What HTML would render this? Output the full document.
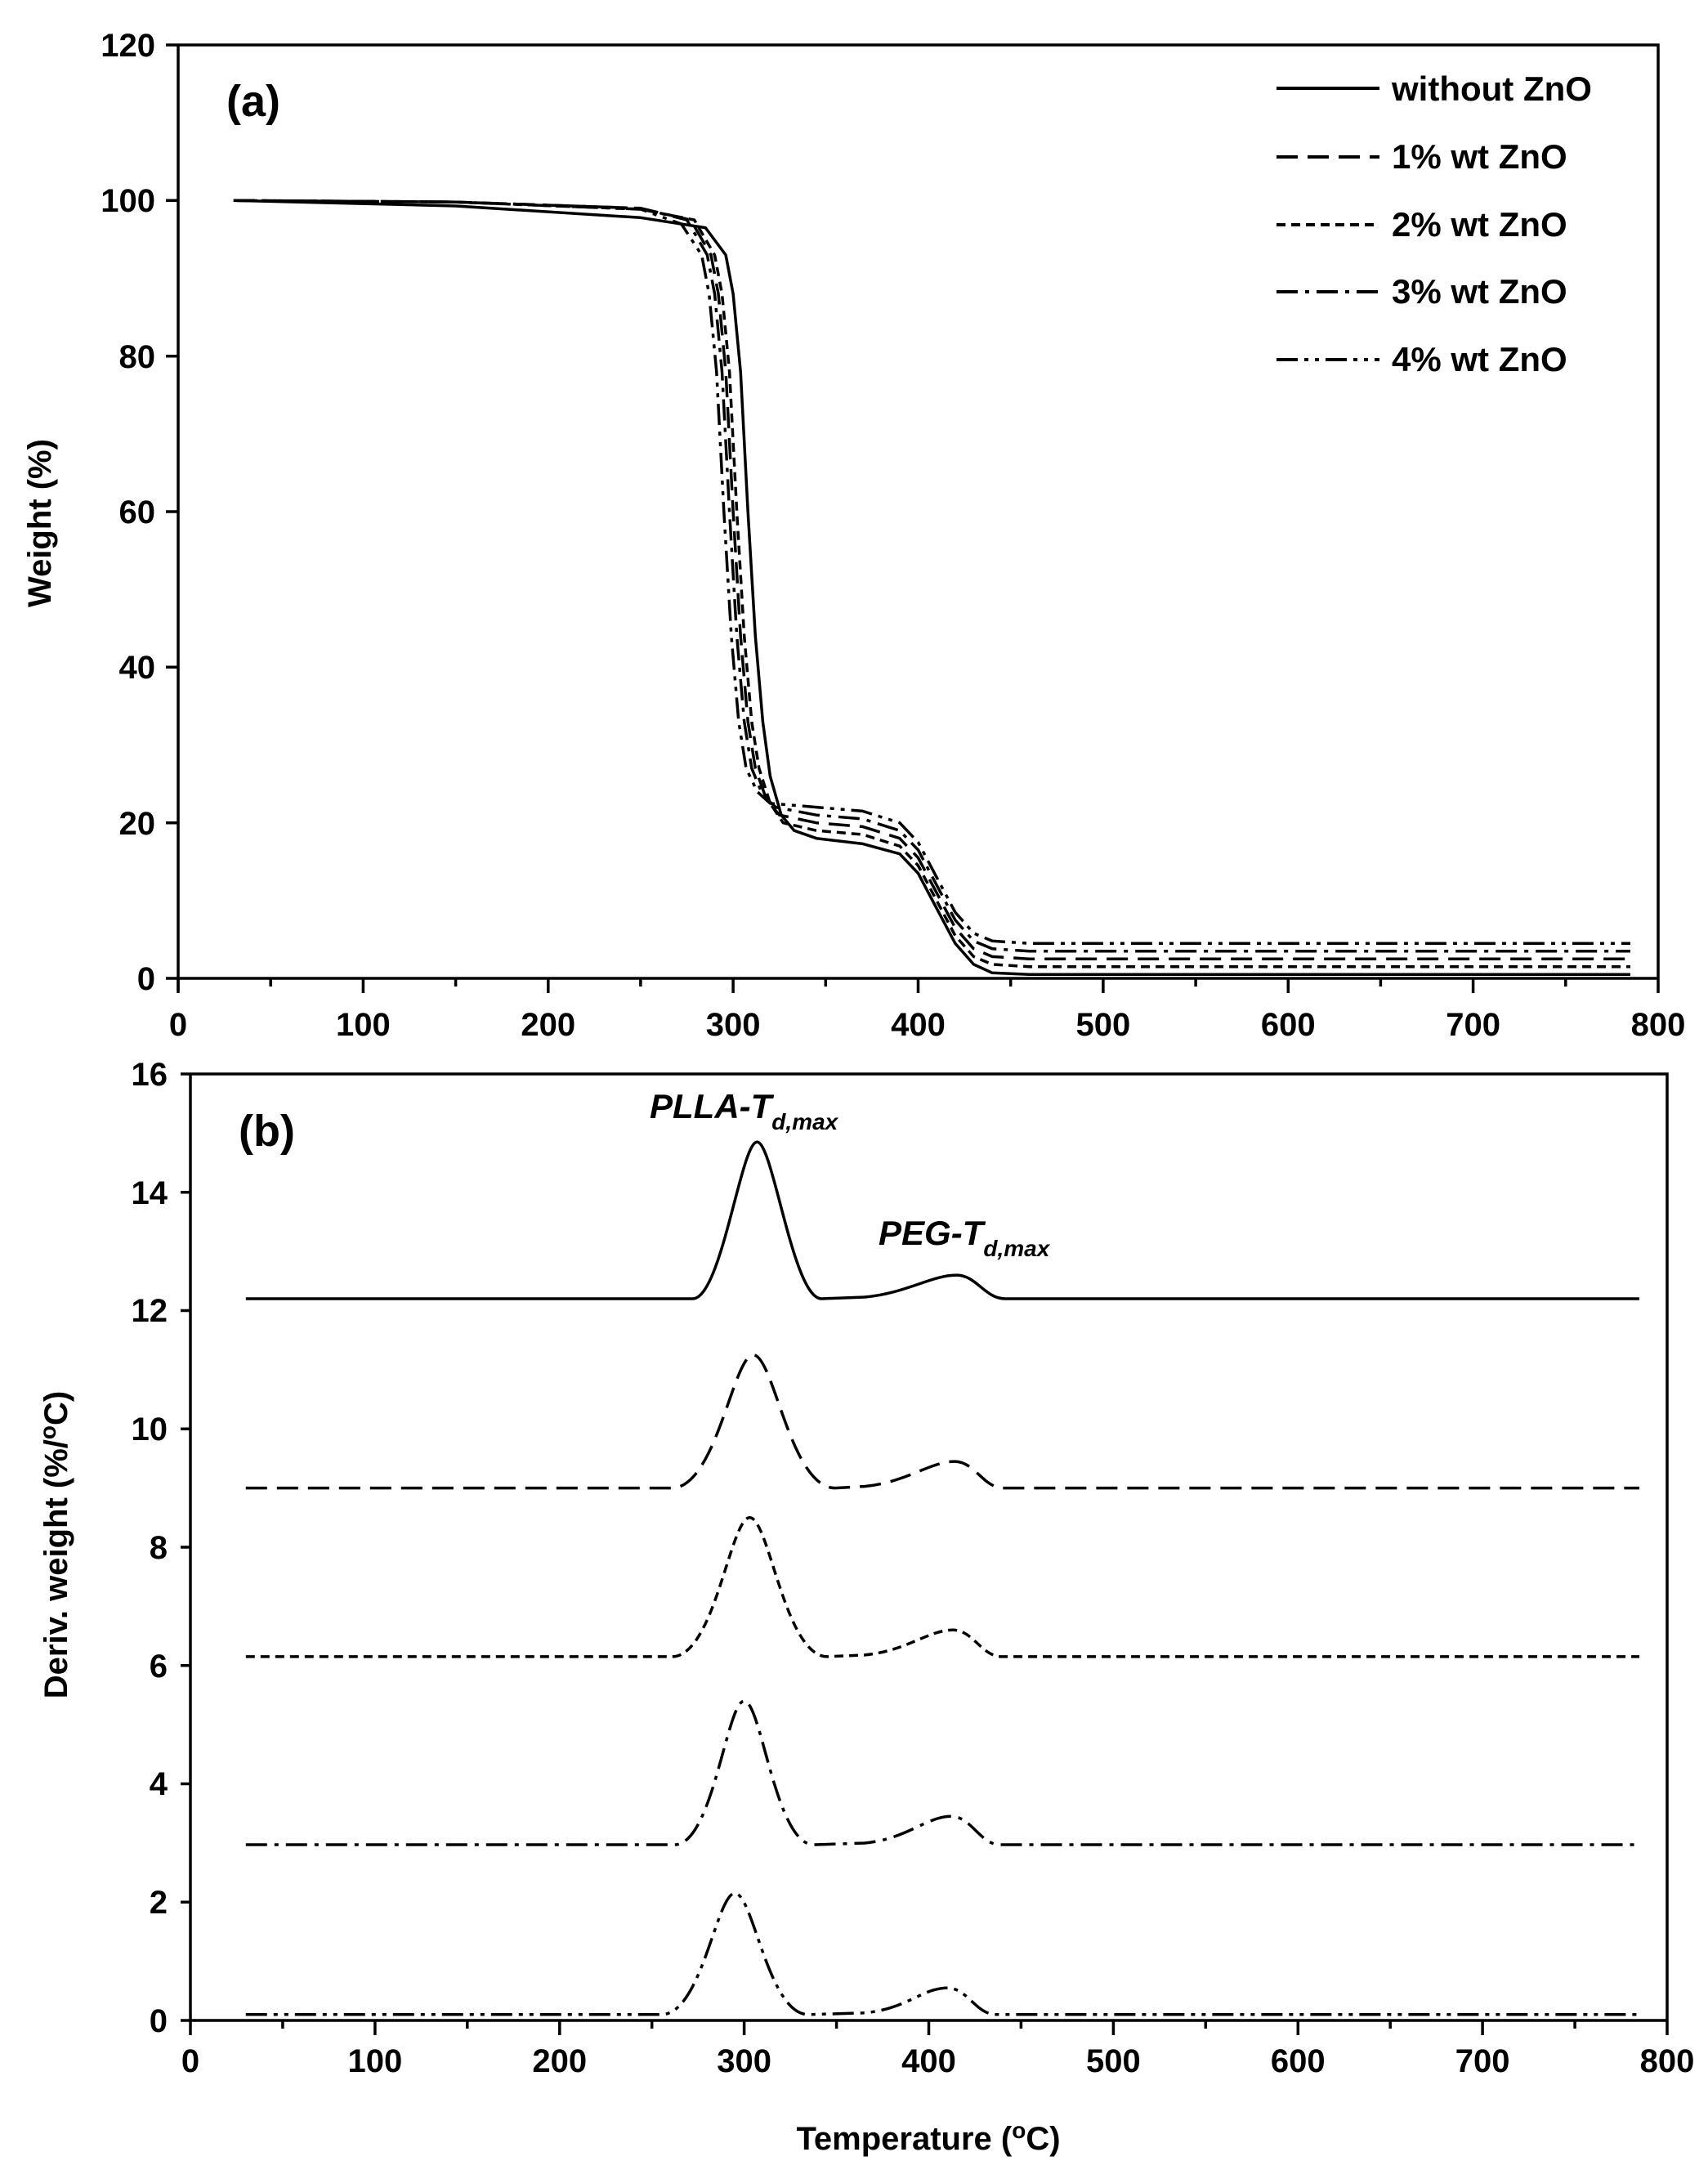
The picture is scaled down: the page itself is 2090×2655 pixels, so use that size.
<!DOCTYPE html>
<html><head><meta charset="utf-8"><style>
html,body{margin:0;padding:0;background:#fff}
svg text{font-family:"Liberation Sans",Arial,sans-serif;font-weight:bold;fill:#000}
</style></head><body>
<svg width="2090" height="2650" viewBox="0 0 2090 2650" xmlns="http://www.w3.org/2000/svg">
<g stroke="#000" stroke-width="3.5" fill="none">
<!-- panel a frame -->
<path d="M218,55 H2029 V1197 M218,55 V1212 M203,1197 H2029"/>
<path d="M203,1006.7 H218 M203,816.3 H218 M203,626 H218 M203,435.7 H218 M203,245.3 H218 M203,55 H218"/>
<path d="M218,1197 v18 M331.2,1197 v10 M444.4,1197 v18 M557.6,1197 v10 M670.8,1197 v18 M783.9,1197 v10 M897.1,1197 v18 M1010.3,1197 v10 M1123.5,1197 v18 M1236.7,1197 v10 M1349.9,1197 v18 M1463.1,1197 v10 M1576.3,1197 v18 M1689.4,1197 v10 M1802.6,1197 v18 M1915.8,1197 v10 M2029,1197 v18"/>
<!-- panel b frame -->
<path d="M233,1314 H2040 V2472 M233,1314 V2472 M221,2472 H2040"/>
<path d="M221,2327.3 H233 M221,2182.5 H233 M221,2037.8 H233 M221,1893 H233 M221,1748.3 H233 M221,1603.5 H233 M221,1458.8 H233 M221,1314 H233"/>
<path d="M233,2472 v18 M345.9,2472 v10 M458.9,2472 v18 M571.8,2472 v10 M684.8,2472 v18 M797.7,2472 v10 M910.6,2472 v18 M1023.6,2472 v10 M1136.5,2472 v18 M1249.4,2472 v10 M1362.4,2472 v18 M1475.3,2472 v10 M1588.3,2472 v18 M1701.2,2472 v10 M1814.1,2472 v18 M1927.1,2472 v10 M2040,2472 v18"/>
</g>
<g font-size="40" text-anchor="end">
<text x="190" y="1211">0</text><text x="190" y="1021">20</text><text x="190" y="830">40</text><text x="190" y="640">60</text><text x="190" y="450">80</text><text x="190" y="259">100</text><text x="190" y="69">120</text>
<text x="205" y="2486">0</text><text x="205" y="2341">2</text><text x="205" y="2196">4</text><text x="205" y="2052">6</text><text x="205" y="1907">8</text><text x="205" y="1762">10</text><text x="205" y="1617">12</text><text x="205" y="1473">14</text><text x="205" y="1328">16</text>
</g>
<g font-size="40" text-anchor="middle">
<text x="218" y="1267">0</text><text x="444.4" y="1267">100</text><text x="670.8" y="1267">200</text><text x="897.1" y="1267">300</text><text x="1123.5" y="1267">400</text><text x="1349.9" y="1267">500</text><text x="1576.3" y="1267">600</text><text x="1802.6" y="1267">700</text><text x="2029" y="1267">800</text>
<text x="233" y="2535">0</text><text x="458.9" y="2535">100</text><text x="684.8" y="2535">200</text><text x="910.6" y="2535">300</text><text x="1136.5" y="2535">400</text><text x="1362.4" y="2535">500</text><text x="1588.3" y="2535">600</text><text x="1814.1" y="2535">700</text><text x="2040" y="2535">800</text>
</g>
<g stroke="#000" stroke-width="3.5" fill="none" stroke-linejoin="round">
<path d="M285.9,245.3 L557.6,252.0 L783.9,266.3 L863.2,278.6 L888.1,312.0 L897.1,359.5 L906.2,454.7 L915.2,626.0 L924.3,778.3 L933.4,883.0 L942.4,949.6 L956.0,997.2 L971.8,1016.2 L999.0,1025.7 L1055.6,1032.4 L1100.9,1044.7 L1123.5,1068.5 L1146.1,1111.3 L1168.8,1154.2 L1191.4,1179.9 L1214.1,1190.3 L1259.3,1192.2 L1995.0,1192.2"/>
<path stroke-dasharray="26,12" d="M285.9,245.3 L557.6,247.2 L783.9,254.8 L845.1,269.1 L870.0,312.0 L879.0,359.5 L888.1,454.7 L897.1,626.0 L906.2,778.3 L915.2,883.0 L924.3,940.0 L937.9,978.1 L953.7,997.2 L999.0,1006.7 L1055.6,1011.4 L1100.9,1025.7 L1123.5,1049.5 L1146.1,1092.3 L1168.8,1135.1 L1191.4,1160.8 L1214.1,1170.4 L1259.3,1173.2 L1995.0,1173.2"/>
<path stroke-dasharray="11,7" d="M285.9,245.3 L557.6,247.2 L783.9,256.0 L849.6,269.1 L874.5,312.0 L883.5,359.5 L892.6,454.7 L901.6,626.0 L910.7,778.3 L919.8,883.0 L928.8,940.0 L942.4,982.9 L958.3,1006.7 L999.0,1016.2 L1055.6,1021.0 L1100.9,1035.2 L1123.5,1059.0 L1146.1,1101.8 L1168.8,1144.7 L1191.4,1170.4 L1214.1,1179.9 L1259.3,1182.7 L1995.0,1182.7"/>
<path stroke-dasharray="26,9,5,9" d="M285.9,245.3 L557.6,247.2 L783.9,254.8 L840.5,269.1 L865.4,312.0 L874.5,359.5 L883.5,454.7 L892.6,626.0 L901.6,778.3 L910.7,883.0 L919.8,940.0 L933.4,973.3 L949.2,987.6 L999.0,997.2 L1055.6,1001.9 L1100.9,1016.2 L1123.5,1040.0 L1146.1,1082.8 L1168.8,1125.6 L1191.4,1151.3 L1214.1,1160.8 L1259.3,1163.7 L1995.0,1163.7"/>
<path stroke-dasharray="26,8,5,8,5,8" d="M285.9,245.3 L557.6,247.2 L783.9,256.0 L833.7,274.0 L858.6,312.0 L867.7,359.5 L876.8,454.7 L885.8,626.0 L894.9,778.3 L903.9,883.0 L913.0,940.0 L926.6,968.6 L942.4,982.9 L999.0,987.6 L1055.6,992.4 L1100.9,1006.7 L1123.5,1030.5 L1146.1,1073.3 L1168.8,1116.1 L1191.4,1141.8 L1214.1,1151.3 L1259.3,1154.2 L1995.0,1154.2"/>
<!-- panel b -->
<path d="M300.8,1589 L847.4,1589 C883,1589 906.6,1397.2 926.4,1397.2 C946.2,1397.2 970,1589 1005.4,1589 L1058,1587 C1110,1582 1140,1560.1 1170.4,1560.1 C1195,1560.1 1205,1589 1230,1589 L2006,1589"/>
<path stroke-dasharray="26,12" d="M300.8,1820.6 L821.9,1820.6 C876.9,1820.6 896.9,1657.8 921.9,1657.8 C946.9,1657.8 966.9,1820.6 1021.9,1820.6 L1058,1818.6 C1110,1813.6 1138,1788.1 1168.1,1788.1 C1193,1788.1 1203,1820.6 1228,1820.6 L2006,1820.6"/>
<path stroke-dasharray="11,7" d="M300.8,2026.9 L822.4,2026.9 C874.6,2026.9 893.6,1856.8 917.4,1856.8 C941.2,1856.8 960.2,2026.9 1012.4,2026.9 L1058,2024.9 C1110,2019.9 1136,1994.3 1165.9,1994.3 C1191,1994.3 1201,2026.9 1226,2026.9 L2006,2026.9"/>
<path stroke-dasharray="26,9,5,9" d="M300.8,2257 L825.6,2257 C872.4,2257 889.4,2081.2 910.6,2081.2 C931.8,2081.2 948.8,2257 995.6,2257 L1058,2255 C1110,2250 1134,2222.3 1163.6,2222.3 C1189,2222.3 1199,2257 1224,2257 L2006,2257"/>
<path stroke-dasharray="26,8,5,8,5,8" d="M300.8,2464.8 L809.3,2464.8 C858.8,2464.8 876.8,2316.4 899.3,2316.4 C921.8,2316.4 939.8,2464.8 989.3,2464.8 L1058,2462.8 C1110,2457.8 1129,2432.2 1159.1,2432.2 C1184,2432.2 1194,2464.8 1219,2464.8 L2006,2464.8"/>
<!-- legend -->
<path stroke-width="4" d="M1562,108 H1688"/>
<path stroke-width="4" stroke-dasharray="26,12" d="M1562,192 H1688"/>
<path stroke-width="4" stroke-dasharray="11,7" d="M1562,275 H1688"/>
<path stroke-width="4" stroke-dasharray="26,9,5,9" d="M1562,357 H1688"/>
<path stroke-width="4" stroke-dasharray="26,8,5,8,5,8" d="M1562,440 H1688"/>
</g>
<text x="277" y="142" font-size="54">(a)</text>
<text x="292" y="1402" font-size="54">(b)</text>
<g font-size="42">
<text x="1703" y="123">without ZnO</text>
<text x="1703" y="206">1% wt ZnO</text>
<text x="1703" y="289">2% wt ZnO</text>
<text x="1703" y="371">3% wt ZnO</text>
<text x="1703" y="454">4% wt ZnO</text>
</g>
<text font-size="40" transform="translate(62,640) rotate(-90)" text-anchor="middle">Weight (%)</text>
<text font-size="40" transform="translate(82,1890) rotate(-90)" text-anchor="middle">Deriv. weight (%/<tspan font-size="28" dy="-14">o</tspan><tspan dy="14">C)</tspan></text>
<text font-size="40" x="1136" y="2630" text-anchor="middle">Temperature (<tspan font-size="28" dy="-14">o</tspan><tspan dy="14">C)</tspan></text>
<text font-size="42" font-style="italic" x="795" y="1368">PLLA-T<tspan font-size="28" dy="14">d,max</tspan></text>
<text font-size="42" font-style="italic" x="1075" y="1523">PEG-T<tspan font-size="28" dy="14">d,max</tspan></text>
</svg>
</body></html>
